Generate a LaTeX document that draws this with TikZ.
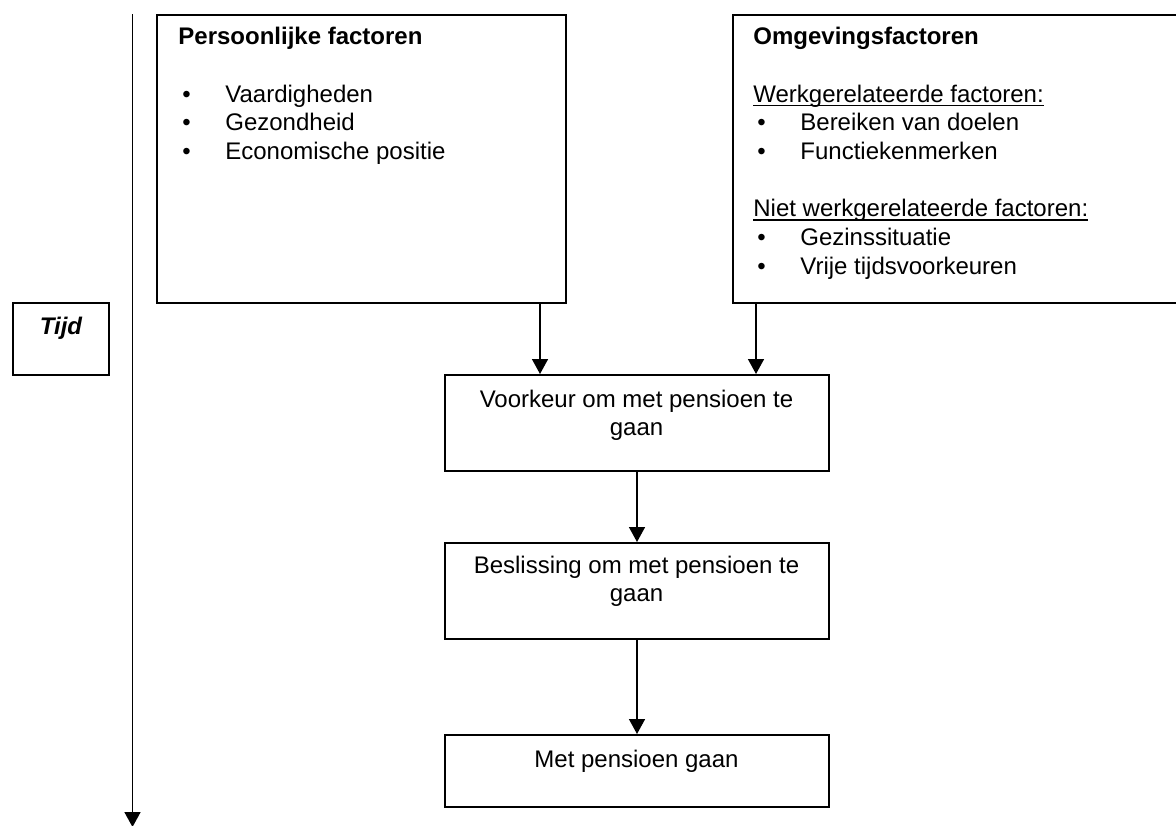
\documentclass[tikz,border=0pt]{standalone}
\usepackage{fontspec}
\setmainfont{Liberation Sans}
\usetikzlibrary{arrows.meta}

% underline placed just below the baseline, as word processors do
\newcommand\ulin[1]{\setbox0\hbox{#1}\rlap{\rule[-2pt]{\wd0}{0.75pt}}\box0}
\newcommand\bul{\hspace*{2pt}\makebox[21.5pt][l]{\textbullet}}

\tikzset{
  box/.style={draw, line width=1pt, anchor=north west, inner sep=0pt},
  arr/.style={line width=0.75pt, -{Triangle[width=8pt,length=7.5pt]}},
  txt/.style={anchor=base west, inner sep=0pt, font=\fontsize{12}{14}\selectfont},
  ctxt/.style={anchor=base, inner sep=0pt, font=\fontsize{12}{14}\selectfont},
}

\begin{document}
\begin{tikzpicture}[x=0.5pt, y=-0.5pt]
\useasboundingbox (0,0) rectangle (1176,825);
\clip (0,0) rectangle (1176,825);

% time axis
\coordinate (ttop) at (132.5,14);
\coordinate (tbot) at (132.5,827);
\draw[line width=0.85pt, -{Triangle[width=8pt,length=7.5pt]}] (ttop) -- (tbot);

% boxes (sizes in px of the layout grid)
\node[box, minimum width=48pt, minimum height=36pt] (tijd) at (12,302) {};
\node[box, minimum width=204.5pt, minimum height=144pt] (pers) at (156,14) {};
\node[box, minimum width=230pt, minimum height=144pt] (omg) at (732,14) {};
\node[box, minimum width=192pt, minimum height=48pt] (voork) at (444,374) {};
\node[box, minimum width=192pt, minimum height=48pt] (besl) at (444,542) {};
\node[box, minimum width=192pt, minimum height=36pt] (met) at (444,734) {};

% texts
\node[ctxt, font=\fontsize{12}{14}\selectfont\bfseries\itshape] (tijdt) at (61,334) {Tijd};

\node[txt, font=\fontsize{12}{14}\selectfont\bfseries] (perst) at (178,44.6) {Persoonlijke factoren};
\node[txt] (p1) at (178,102) {\bul Vaardigheden};
\node[txt] (p2) at (178,130.7) {\bul Gezondheid};
\node[txt] (p3) at (178,159.4) {\bul Economische positie};

\node[txt, font=\fontsize{12}{14}\selectfont\bfseries] (omgt) at (753,44.6) {Omgevingsfactoren};
\node[txt] (o1) at (753,102) {\ulin{Werkgerelateerde factoren:}};
\node[txt] (o2) at (753,130.7) {\bul Bereiken van doelen};
\node[txt] (o3) at (753,159.4) {\bul Functiekenmerken};
\node[txt] (o4) at (753,216.8) {\ulin{Niet werkgerelateerde factoren:}};
\node[txt] (o5) at (753,245.5) {\bul Gezinssituatie};
\node[txt] (o6) at (753,274.2) {\bul Vrije tijdsvoorkeuren};

\node[ctxt] (v1) at (636.5,407) {Voorkeur om met pensioen te};
\node[ctxt] (v2) at (636.5,435.5) {gaan};
\node[ctxt] (b1) at (636.5,573) {Beslissing om met pensioen te};
\node[ctxt] (b2) at (636.5,601.5) {gaan};
\node[ctxt] (m1) at (636.5,767) {Met pensioen gaan};

% connectors
\coordinate (xl) at (540,0);
\coordinate (xr) at (756,0);
\coordinate (xc) at (637,0);
\draw[arr] (pers.south -| xl) -- (voork.north -| xl);
\draw[arr] (omg.south -| xr) -- (voork.north -| xr);
\draw[arr] (voork.south -| xc) -- (besl.north -| xc);
\draw[arr] (besl.south -| xc) -- (met.north -| xc);
\end{tikzpicture}
\end{document}
